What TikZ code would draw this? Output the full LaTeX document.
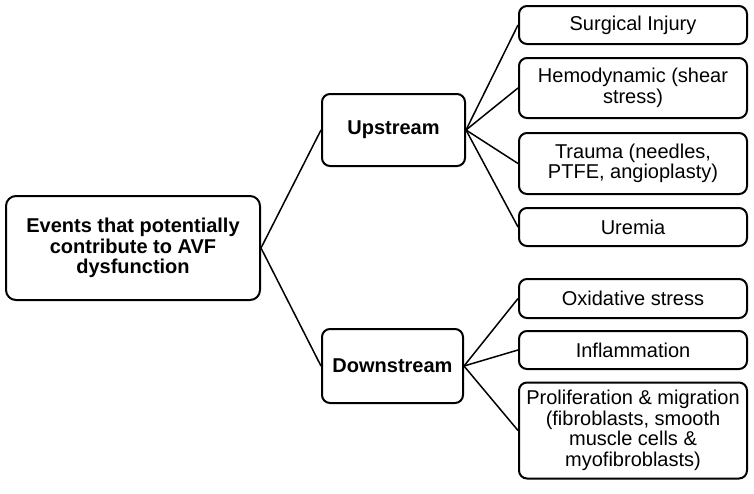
\documentclass[tikz,border=0pt]{standalone}
\usepackage{fontspec}
\setmainfont{Liberation Sans}
\begin{document}
\begin{tikzpicture}[x=1pt,y=-1pt,
  box/.style={draw=black, line width=2pt, rounded corners=8pt, inner sep=0pt,
    align=center, font=\fontsize{20}{20.5}\selectfont},
  bbox/.style={box, font=\fontsize{20}{20.5}\selectfont\bfseries},
  leaf/.style={box, minimum width=228pt},
  conn/.style={draw=black, line width=1.5pt}]
\useasboundingbox (0,0) rectangle (754,493);
\node[bbox, rounded corners=10pt, minimum width=254pt, minimum height=104pt] (root) at (133,248)
  {Events that potentially\\contribute to AVF\\dysfunction};
\node[bbox, minimum width=143pt, minimum height=72pt] (up) at (393.5,130) {Upstream};
\node[bbox, minimum width=141pt, minimum height=74pt] (down) at (392.5,366) {Downstream};
\node[leaf, minimum height=38pt] (s1) at (633,25) {Surgical Injury};
\node[leaf, minimum height=60pt] (s2) at (633,88) {Hemodynamic (shear\\stress)};
\node[leaf, minimum height=61pt] (s3) at (633,163.5) {Trauma (needles,\\PTFE, angioplasty)};
\node[leaf, minimum height=38pt] (s4) at (633,227) {Uremia};
\node[leaf, minimum height=39pt] (d1) at (633,298.5) {Oxidative stress};
\node[leaf, minimum height=38pt] (d2) at (633,350) {Inflammation};
\node[leaf, minimum height=96pt] (d3) at (633,430.5) {Proliferation \& migration\\(fibroblasts, smooth\\muscle cells \&\\myofibroblasts)};
\draw[conn] (root.east) -- (up.west);
\draw[conn] (root.east) -- (down.west);
\foreach \t in {s1,s2,s3,s4} \draw[conn] (up.east) -- (\t.west);
\foreach \t in {d1,d2,d3} \draw[conn] (down.east) -- (\t.west);
\end{tikzpicture}
\end{document}
